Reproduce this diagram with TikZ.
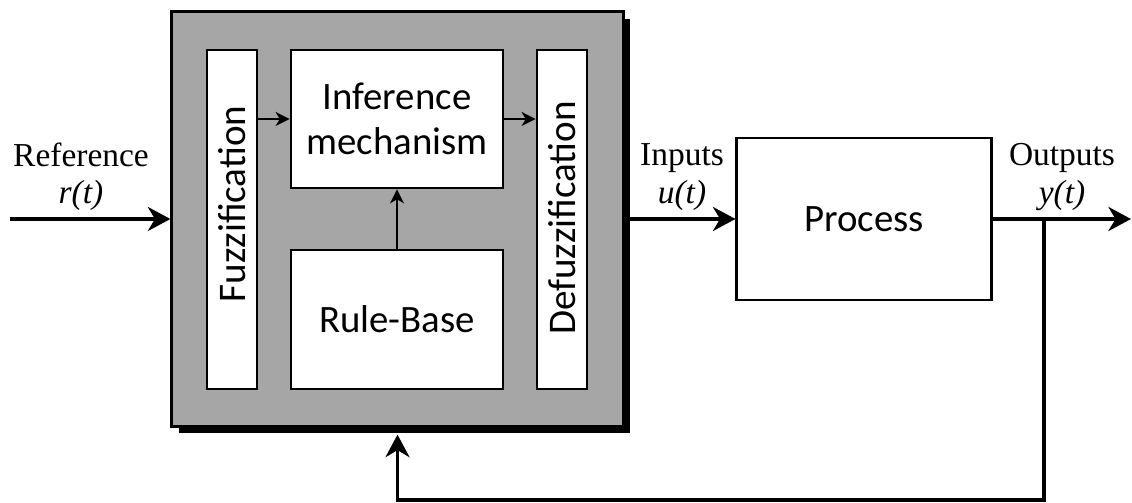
\documentclass[tikz,border=0pt]{standalone}
\usepackage{fontspec}
\setmainfont{Liberation Serif}
\newfontfamily\boxfont{Carlito}
\usetikzlibrary{arrows.meta,shadows}
\begin{document}
\begin{tikzpicture}[x=0.025cm,y=-0.025cm,
    blk/.style={draw,line width=1.9pt,fill=white,inner sep=0pt,align=center,
      font=\boxfont\fontsize{27.6}{32}\selectfont},
    vtxt/.style={rotate=90,inner sep=0pt,font=\boxfont\fontsize{27.8}{32}\selectfont},
    lbl/.style={align=center,inner sep=0pt,font=\fontsize{23.8}{26.5}\selectfont},
    bigarrow/.style={line width=2.8pt,-{Stealth[length=16pt,width=17pt,inset=5pt]}},
    smallarrow/.style={line width=1.4pt,-{Stealth[length=10pt,width=10pt,inset=3pt]}}]
    \useasboundingbox (0,0) rectangle (1132,503);

    % fuzzy controller
    \node[draw,line width=2.2pt,fill=black!35,minimum width=320.8pt,minimum height=294.5pt,
      drop shadow={shadow xshift=5pt,shadow yshift=-5pt,opacity=1,fill=black}] (ctrl) at (397.5,219) {};
    \node[blk,minimum width=35.6pt,minimum height=241.1pt] (fuzz) at (232,219.5) {};
    \node[vtxt] (fuzztxt) at (232,204) {Fuzzification};
    \node[blk,minimum width=150.8pt,minimum height=98.2pt] (infer) at (397,119) {Inference\\mechanism};
    \node[blk,minimum width=35.6pt,minimum height=241.1pt] (defuzz) at (562,219.5) {};
    \node[vtxt] (defuzztxt) at (562,218) {Defuzzification};
    \node[blk,minimum width=150.8pt,minimum height=98.9pt] (rule) at (397,319.5) {Rule-Base};
    \draw[smallarrow] (infer.west -| fuzz.east) -- (infer.west);
    \draw[smallarrow] (infer.east) -- (infer.east -| defuzz.west);
    \draw[smallarrow] (rule.north) -- (infer.south);

    % plant
    \node[blk,line width=2.1pt,minimum width=180.7pt,minimum height=115.2pt] (proc) at (864,219) {Process};

    % signals
    \coordinate (ref) at (10,219);
    \coordinate (out) at (1131,219);
    \coordinate (tap) at (1044,219);
    \coordinate (fb) at (1044,500);
    \draw[bigarrow] (ref) -- (ctrl.west);
    \draw[bigarrow] (ctrl.east) -- (proc.west);
    \draw[bigarrow] (proc.east) -- (out);
    \draw[bigarrow] (tap) -- (fb) -| ([yshift=-5pt]ctrl.south);

    \node[lbl] (reflbl) at (81,177) {Reference\\\textit{r(t)}};
    \node[lbl] (inlbl) at (682,177) {Inputs\\\textit{u(t)}};
    \node[lbl] (outlbl) at (1062,177) {Outputs\\\textit{y(t)}};
\end{tikzpicture}
\end{document}
